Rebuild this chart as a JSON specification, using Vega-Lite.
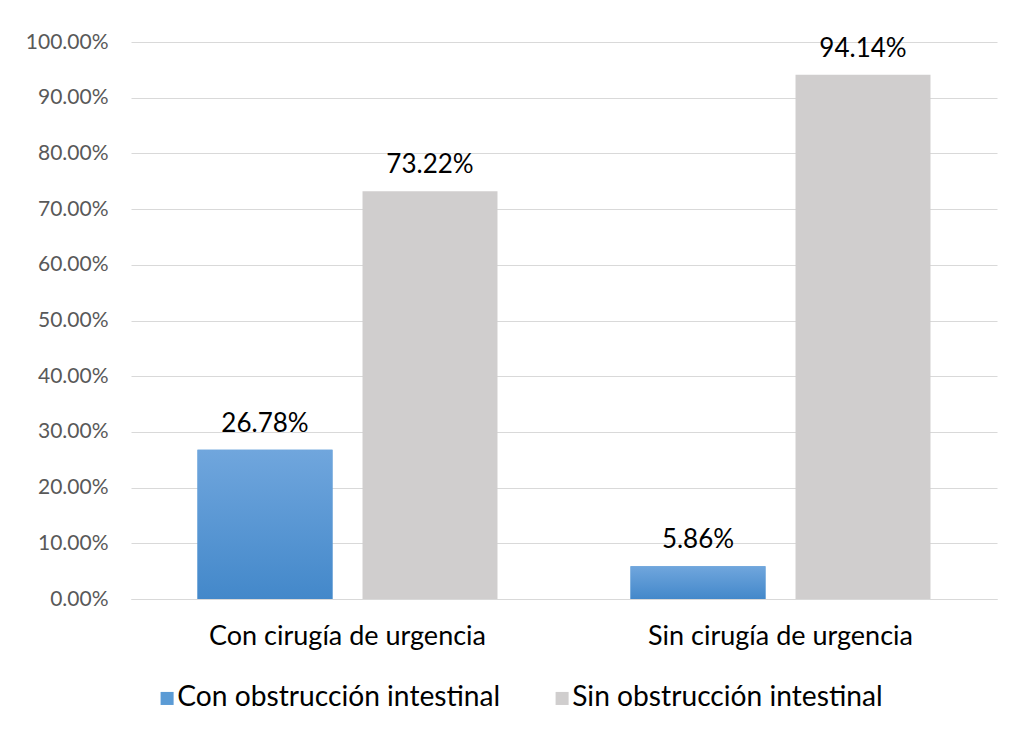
{
  "$schema": "https://vega.github.io/schema/vega-lite/v6.json",
  "width": 866,
  "height": 557,
  "autosize": "none",
  "padding": {"left": 131, "top": 42, "right": 15, "bottom": 132},
  "background": "white",
  "data": {"values": [
    {"grupo": "Con cirugía de urgencia", "serie": "Con obstrucción intestinal", "valor": 0.2678},
    {"grupo": "Con cirugía de urgencia", "serie": "Sin obstrucción intestinal", "valor": 0.7322},
    {"grupo": "Sin cirugía de urgencia", "serie": "Con obstrucción intestinal", "valor": 0.0586},
    {"grupo": "Sin cirugía de urgencia", "serie": "Sin obstrucción intestinal", "valor": 0.9414}
  ]},
  "encoding": {
    "x": {"field": "grupo", "type": "nominal", "sort": null,
      "scale": {"paddingInner": 0, "paddingOuter": 0},
      "axis": {"title": null, "labelAngle": 0, "labelFont": "Lato", "labelFontSize": 27, "labelColor": "#000000",
        "labelPadding": 24, "ticks": false, "domainColor": "#d9d9d9", "labelLimit": 400}},
    "xOffset": {"field": "serie", "type": "nominal", "sort": null,
      "scale": {"paddingInner": 0.182, "paddingOuter": 0.403}},
    "y": {"field": "valor", "type": "quantitative",
      "scale": {"domain": [0, 1], "nice": false},
      "axis": {"title": null, "format": ".2%", "values": [0,0.1,0.2,0.3,0.4,0.5,0.6,0.7,0.8,0.9,1],
        "labelFont": "Lato", "labelFontSize": 21, "labelColor": "#595959", "labelPadding": 23,
        "ticks": false, "domain": false, "gridColor": "#d9d9d9", "gridWidth": 1}}
  },
  "layer": [
    {
      "mark": {"type": "bar"},
      "encoding": {
        "color": {"field": "serie", "type": "nominal", "sort": null,
          "scale": {"range": ["#5b9bd5", "#d0cece"]},
          "legend": {"title": null, "orient": "none", "direction": "horizontal", "legendX": 22, "legendY": 642,
            "symbolType": "square", "symbolSize": 170, "symbolStrokeWidth": 0, "labelFont": "Lato", "labelFontSize": 28.2,
            "labelColor": "#000000", "labelLimit": 500, "columnPadding": 47, "symbolOffset": 0, "labelOffset": -4}}
      }
    },
    {
      "transform": [{"filter": "datum.serie === 'Con obstrucción intestinal'"}],
      "mark": {"type": "bar", "fill": {"gradient": "linear", "x1": 0, "y1": 0, "x2": 0, "y2": 1,
        "stops": [{"offset": 0, "color": "#70a6dd"}, {"offset": 1, "color": "#4388ca"}]}}
    },
    {
      "mark": {"type": "text", "baseline": "alphabetic", "dy": -18, "font": "Lato", "fontSize": 26, "color": "#000000"},
      "encoding": {"text": {"field": "valor", "type": "quantitative", "format": ".2%"}}
    }
  ],
  "config": {"view": {"stroke": null}}
}
